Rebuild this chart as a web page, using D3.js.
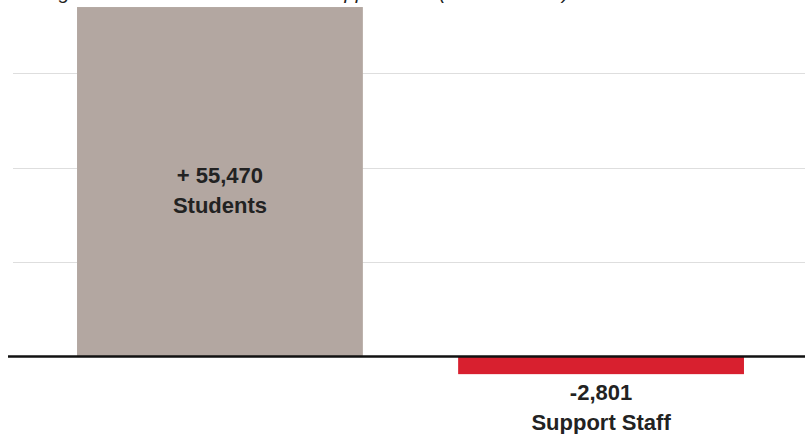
<!DOCTYPE html>
<html>
  <head>
    <meta charset="utf-8">
    <title>Students and support staff</title>
    <script src="https://cdn.jsdelivr.net/npm/d3@7"></script>
    <style>
      body { margin: 0; background: #fff; }
      svg { display: block; }
    </style>
  </head>

  <body>
    <div id="chart"></div>

    <script>
      // data
      let categories = ["Students", "Support Staff"];
      let values = [55470, -2801];
      let valueLabels = ["+ 55,470", "-2,801"];
      let gridTicks = [15000, 30000, 45000];
      let barColours = ["#b3a7a1", "#d8202f"];
      let title = "Change in number of students and support staff (2007 to 2017)";

      let width = 805, height = 434;

      let svg = d3.select("#chart")
        .append("svg")
          .attr("width", width)
          .attr("height", height);

      // scales
      let x = d3.scaleBand()
        .domain(categories)
        .range([13, 808])
        .paddingInner(0.25)
        .paddingOuter(0.168);

      let y = d3.scaleLinear()
        .domain([0, 15000])
        .range([356.5, 262]);

      // gridlines
      svg.append("g")
        .selectAll("line")
          .data(gridTicks)
        .enter().append("line")
          .attr("x1", 13)
          .attr("x2", width)
          .attr("y1", function(d) { return Math.round(y(d)) + 0.5; })
          .attr("y2", function(d) { return Math.round(y(d)) + 0.5; })
          .style("stroke", "#dedede")
          .style("stroke-width", 1);

      // cropped title at the top
      svg.append("text")
        .attr("x", 11)
        .attr("y", -1)
        .style("font-family", "Liberation Sans, Arial, sans-serif")
        .style("font-size", "20px")
        .style("font-style", "italic")
        .style("fill", "#222")
        .text(title);

      // bars
      svg.append("g")
        .selectAll("rect")
          .data(values)
        .enter().append("rect")
          .attr("x", function(d, i) { return x(categories[i]); })
          .attr("width", x.bandwidth())
          .attr("y", function(d) { return y(Math.max(0, d)); })
          .attr("height", function(d) { return Math.abs(y(d) - y(0)); })
          .style("fill", function(d, i) { return barColours[i]; });

      // zero line
      svg.append("line")
        .attr("x1", 8)
        .attr("x2", width)
        .attr("y1", y(0))
        .attr("y2", y(0))
        .style("stroke", "#111")
        .style("stroke-width", 2.5);

      // labels: inside the positive bar, below the negative one
      let labels = svg.append("g")
        .selectAll("text")
          .data(values)
        .enter().append("text")
          .attr("text-anchor", "middle")
          .attr("x", function(d, i) { return x(categories[i]) + x.bandwidth() / 2; })
          .attr("y", function(d) { return d > 0 ? y(d / 2) + 1 : y(d) + 26; })
          .style("font-family", "Liberation Sans, Arial, sans-serif")
          .style("font-weight", "bold")
          .style("font-size", "22px")
          .style("fill", "#222");

      labels.append("tspan")
        .text(function(d, i) { return valueLabels[i]; });
      labels.append("tspan")
        .attr("x", function(d, i) { return x(categories[i]) + x.bandwidth() / 2; })
        .attr("dy", 30)
        .text(function(d, i) { return categories[i]; });
    </script>
  </body>
</html>
